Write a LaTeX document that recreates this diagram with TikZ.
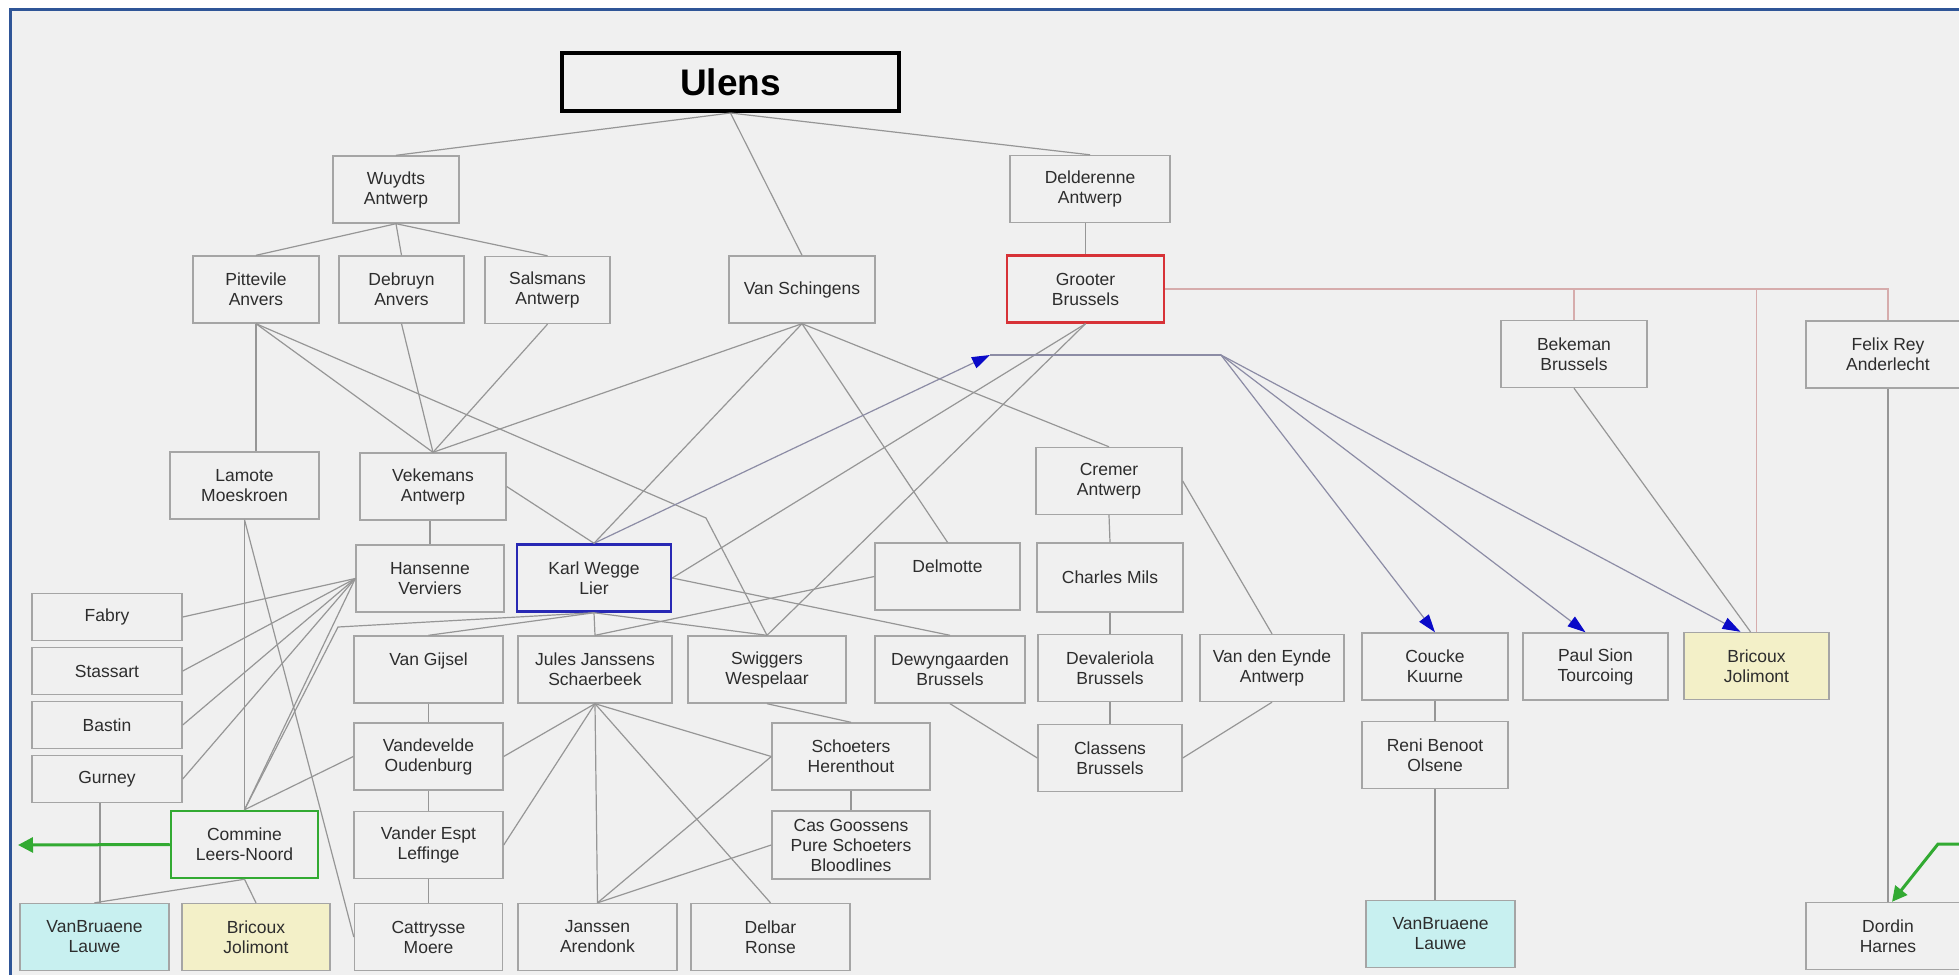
\documentclass[tikz,border=0pt]{standalone}
\usepackage{fontspec}
\setmainfont{Liberation Sans}
\usetikzlibrary{arrows.meta}

\definecolor{bgcol}{RGB}{240,240,240}
\definecolor{framecol}{RGB}{47,85,151}
\definecolor{boxline}{RGB}{165,165,165}
\definecolor{linkgrey}{RGB}{150,150,150}
\definecolor{fangrey}{RGB}{140,140,165}
\definecolor{linkred}{RGB}{214,172,172}
\definecolor{wegblue}{RGB}{40,40,180}
\definecolor{groored}{RGB}{215,50,55}
\definecolor{comgreen}{RGB}{50,170,50}
\definecolor{lauwecyan}{RGB}{200,240,240}
\definecolor{jolyellow}{RGB}{243,240,200}
\definecolor{txtgrey}{RGB}{45,45,45}
\definecolor{tipblue}{RGB}{10,10,200}

\begin{document}
\begin{tikzpicture}[x=1pt,y=-1pt,
  box/.style={draw=boxline, fill=bgcol, line width=1.4pt, minimum width=148pt,
    minimum height=67pt, inner sep=0pt, align=center, text=txtgrey,
    font=\fontsize{17.5}{20}\selectfont},
  link/.style={draw=linkgrey, line width=1.2pt},
  fanlink/.style={draw=fangrey, line width=1.2pt},
  redlink/.style={draw=linkred, line width=1.2pt},
  bluetip/.style={-{Triangle[length=18pt,width=12pt,color=tipblue]}},
  greenarrow/.style={draw=comgreen, line width=3pt, -{Triangle[length=15pt,width=15pt]}}]

% page and frame
\useasboundingbox (0,0) rectangle (1959,975);
\fill[white] (0,0) rectangle (1959,975);
\fill[bgcol] (10,9) rectangle (1959,975);
\draw[framecol, line width=3pt] (10,975) -- (10,9) -- (1959,9);

% top of the tree
\node[box, draw=black, line width=4pt, minimum width=337pt, minimum height=58pt,
  text=black, font=\fontsize{37}{40}\selectfont\bfseries] (ulens) at (730.5,82) {Ulens};
\node[box, minimum width=126pt] (wuydts) at (396,189.5) {Wuydts\\Antwerp};
\node[box, minimum width=160pt] (delderenne) at (1090,189) {Delderenne\\Antwerp};

% second row
\node[box, minimum width=126pt] (pittevile) at (256,289.5) {Pittevile\\Anvers};
\node[box, minimum width=125pt] (debruyn) at (401.5,289.5) {Debruyn\\Anvers};
\node[box, minimum width=125pt] (salsmans) at (547.5,290) {Salsmans\\Antwerp};
\node[box, minimum width=146pt] (vanschingens) at (802,289.5) {Van Schingens};
\node[box, draw=groored, line width=2.5pt, minimum width=157pt] (grooter) at (1085.5,289) {Grooter\\Brussels};
\node[box, minimum width=146pt] (bekeman) at (1574,354) {Bekeman\\Brussels};
\node[box, minimum width=164pt] (felixrey) at (1888,354.5) {Felix Rey\\Anderlecht};

% middle rows
\node[box, minimum width=149pt] (lamote) at (244.5,485.5) {Lamote\\Moeskroen};
\node[box, minimum width=146pt] (vekemans) at (433,486.5) {Vekemans\\Antwerp};
\node[box, minimum width=146pt] (cremer) at (1109,481) {Cremer\\Antwerp};
\node[box] (hansenne) at (430,578.5) {Hansenne\\Verviers};
\node[box, draw=wegblue, line width=2.5pt, minimum width=154pt] (karlwegge) at (594,578) {Karl Wegge\\Lier};
\node[box, minimum width=145pt] (delmotte) at (947.5,576.5) {Delmotte\\\mbox{}};
\node[box, minimum width=146pt, minimum height=69pt] (charlesmils) at (1110,577.5) {Charles Mils};

% small boxes on the left
\node[box, minimum width=150pt, minimum height=47pt] (fabry) at (107,617) {Fabry};
\node[box, minimum width=150pt, minimum height=47pt] (stassart) at (107,671) {Stassart};
\node[box, minimum width=150pt, minimum height=47pt] (bastin) at (107,725) {Bastin};
\node[box, minimum width=150pt, minimum height=47pt] (gurney) at (107,779) {Gurney};

% row of Jules Janssens
\node[box, minimum width=149pt] (vangijsel) at (428.5,669.5) {Van Gijsel\\\mbox{}};
\node[box, minimum width=154pt] (julesjanssens) at (595,669.5) {Jules Janssens\\Schaerbeek};
\node[box, minimum width=158pt] (swiggers) at (767,669.5) {Swiggers\\Wespelaar};
\node[box, minimum width=150pt] (dewyngaarden) at (950,669.5) {Dewyngaarden\\Brussels};
\node[box, minimum width=144pt] (devaleriola) at (1110,668) {Devaleriola\\Brussels};
\node[box, minimum width=144pt] (vandeneynde) at (1272,668) {Van den Eynde\\Antwerp};
\node[box, minimum width=146pt] (coucke) at (1435,666.5) {Coucke\\Kuurne};
\node[box, minimum width=145pt] (paulsion) at (1595.5,666.5) {Paul Sion\\Tourcoing};
\node[box, fill=jolyellow, minimum width=145pt] (bricouxR) at (1756.5,666) {Bricoux\\Jolimont};

% lower rows
\node[box, minimum width=149pt] (vandevelde) at (428.5,756.5) {Vandevelde\\Oudenburg};
\node[box, minimum width=158pt] (schoeters) at (851,756.5) {Schoeters\\Herenthout};
\node[box, minimum width=144pt] (classens) at (1110,758) {Classens\\Brussels};
\node[box, minimum width=146pt] (renibenoot) at (1435,755) {Reni Benoot\\Olsene};
\node[box, draw=comgreen, line width=2.5pt, minimum width=147pt] (commine) at (244.5,844.5) {Commine\\Leers-Noord};
\node[box, minimum width=149pt] (vanderespt) at (428.5,845) {Vander Espt\\Leffinge};
\node[box, minimum width=158pt, minimum height=68pt] (casgoossens) at (851,845) {Cas Goossens\\Pure Schoeters\\Bloodlines};

% bottom row
\node[box, fill=lauwecyan, minimum width=149pt] (vanbruaeneL) at (94.5,937) {VanBruaene\\Lauwe};
\node[box, fill=jolyellow] (bricouxL) at (256,937) {Bricoux\\Jolimont};
\node[box] (cattrysse) at (428.5,937) {Cattrysse\\Moere};
\node[box, minimum width=159pt] (janssen) at (597.5,937) {Janssen\\Arendonk};
\node[box, minimum width=159pt] (delbar) at (770.5,937) {Delbar\\Ronse};
\node[box, fill=lauwecyan, minimum width=149pt] (vanbruaeneR) at (1440.5,934) {VanBruaene\\Lauwe};
\node[box, minimum width=164pt] (dordin) at (1888,936) {Dordin\\Harnes};

% free ends and bends
\coordinate (pitbend) at (706,518);
\coordinate (wegbend) at (338,627);
\coordinate (fantip) at (990,355);
\coordinate (fanfork) at (1221,355);
\coordinate (comfree) at (18,845);
\coordinate (dorfree) at (1959,844);
\coordinate (dorbend) at (1938,844);

% grey connectors
\draw[link] (ulens.south) -- (wuydts.north);
\draw[link] (ulens.south) -- (vanschingens.north);
\draw[link] (ulens.south) -- (delderenne.north);
\draw[link] (wuydts.south) -- (pittevile.north);
\draw[link] (wuydts.south) -- (debruyn.north);
\draw[link] (wuydts.south) -- (salsmans.north);
\draw[link] (grooter.north) -- (grooter.north |- delderenne.south);
\draw[link] (pittevile.south) -- (pittevile.south |- lamote.north);
\draw[link] (pittevile.south) -- (vekemans.north);
\draw[link] (pittevile.south) -- (pitbend) -- (swiggers.north);
\draw[link] (debruyn.south) -- (vekemans.north);
\draw[link] (salsmans.south) -- (vekemans.north);
\draw[link] (vanschingens.south) -- (vekemans.north);
\draw[link] (vanschingens.south) -- (karlwegge.north);
\draw[link] (vanschingens.south) -- (delmotte.north);
\draw[link] (vanschingens.south) -- (cremer.north);
\draw[link] (vekemans.east) -- (karlwegge.north);
\draw[link] (hansenne.north) -- (hansenne.north |- vekemans.south);
\draw[link] (grooter.south) -- (karlwegge.east);
\draw[link] (grooter.south) -- (swiggers.north);
\draw[link] (karlwegge.south) -- (vangijsel.north);
\draw[link] (karlwegge.south) -- (julesjanssens.north);
\draw[link] (karlwegge.south) -- (swiggers.north);
\draw[link] (karlwegge.south) -- (wegbend) -- (commine.north);
\draw[link] (karlwegge.east) -- (dewyngaarden.north);
\draw[link] (delmotte.west) -- (julesjanssens.north);
\foreach \leaf in {fabry,stassart,bastin,gurney}
  \draw[link] (hansenne.west) -- (\leaf.east);
\draw[link] (hansenne.west) -- (commine.north);
\draw[link] (lamote.south) -- (commine.north);
\draw[link] (lamote.south) -- (cattrysse.west);
\draw[link] (vangijsel.south) -- (vandevelde.north);
\draw[link] (vandevelde.south) -- (vanderespt.north);
\draw[link] (vanderespt.south) -- (cattrysse.north);
\draw[link] (vandevelde.west) -- (commine.north);
\draw[link] (julesjanssens.south) -- (vandevelde.east);
\draw[link] (julesjanssens.south) -- (vanderespt.east);
\draw[link] (julesjanssens.south) -- (janssen.north);
\draw[link] (julesjanssens.south) -- (delbar.north);
\draw[link] (julesjanssens.south) -- (schoeters.west);
\draw[link] (swiggers.south) -- (schoeters.north);
\draw[link] (schoeters.west) -- (janssen.north);
\draw[link] (schoeters.south) -- (casgoossens.north);
\draw[link] (casgoossens.west) -- (janssen.north);
\draw[link] (dewyngaarden.south) -- (classens.west);
\draw[link] (cremer.south) -- (charlesmils.north);
\draw[link] (charlesmils.south) -- (devaleriola.north);
\draw[link] (devaleriola.south) -- (classens.north);
\draw[link] (cremer.east) -- (vandeneynde.north);
\draw[link] (vandeneynde.south) -- (classens.east);
\draw[link] (coucke.south) -- (renibenoot.north);
\draw[link] (renibenoot.south) -- (renibenoot.south |- vanbruaeneR.north);
\draw[link] (bekeman.south) -- ([xshift=-6pt]bricouxR.north);
\draw[link] (felixrey.south) -- (dordin.north);
\draw[link] ([xshift=-7pt]gurney.south) -- ([xshift=-7pt]gurney.south |- vanbruaeneL.north);
\draw[link] (commine.south) -- (vanbruaeneL.north);
\draw[link] (commine.south) -- (bricouxL.north);

% red connectors from Grooter
\draw[redlink] (grooter.east) -- (grooter.east -| felixrey.north) -- (felixrey.north);
\draw[redlink] (grooter.east -| bekeman.north) -- (bekeman.north);
\draw[redlink] (grooter.east -| bricouxR.north) -- (bricouxR.north);

% blue arrows from Karl Wegge
\draw[fanlink, bluetip] (karlwegge.north) -- (fantip);
\draw[fanlink] (fantip) -- (fanfork);
\draw[fanlink, bluetip] (fanfork) -- (coucke.north);
\draw[fanlink, bluetip] (fanfork) -- ([xshift=-10pt]paulsion.north);
\draw[fanlink, bluetip] (fanfork) -- ([xshift=-16pt]bricouxR.north);

% green arrows
\draw[greenarrow] (commine.west) -- (comfree);
\draw[greenarrow] (dorfree) -- (dorbend) -- ([xshift=4pt]dordin.north);
\end{tikzpicture}
\end{document}
